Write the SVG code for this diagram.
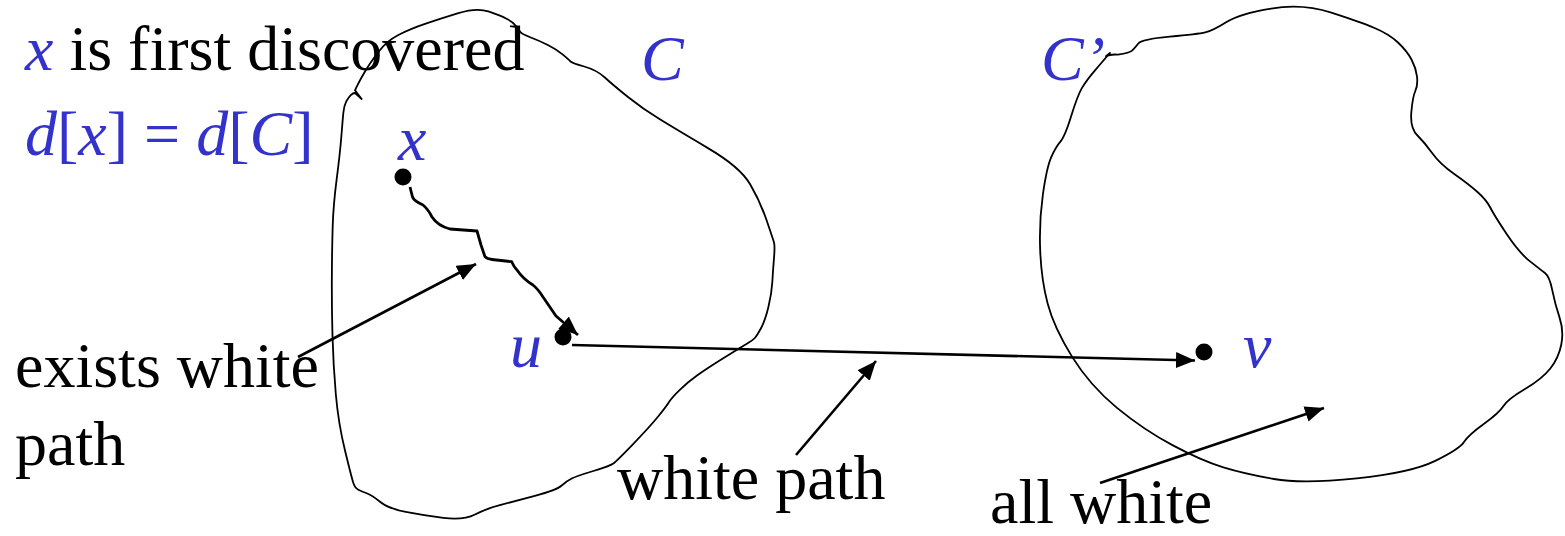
<svg xmlns="http://www.w3.org/2000/svg" width="1565" height="536" viewBox="0 0 1565 536">
<style>
text{font-family:"Liberation Serif","Times New Roman",serif;font-size:64px;fill:#000}
.b{fill:#3333cc;font-style:italic}
.bu{fill:#3333cc}
.blob{fill:none;stroke:#000;stroke-width:1.8;stroke-linejoin:round;stroke-linecap:round}
.conn{fill:none;stroke:#000;stroke-width:2.6}
.sq{fill:none;stroke:#000;stroke-width:2.8;stroke-linejoin:round}
.dot{fill:#000}
</style>
<defs>
<marker id="ah" markerUnits="userSpaceOnUse" markerWidth="22" markerHeight="18" refX="19" refY="8" orient="auto">
<path d="M0,0 L19,8 L0,16 z" fill="#000"/>
</marker>
</defs>
<g id="blobC">
<path class="blob" d="M488.35,11.45 Q500,15.4 506.5,18.7 Q513,22 516,26 Q519,30 520.35,32 Q521.7,34 530.85,37.5 Q540,41 548.35,45.25 Q556.7,49.5 562.85,54.6 Q569,59.7 570.35,61.35 Q571.7,63 584.2,66.5 Q596.7,70 604.85,77.5 Q613,85 628,97 Q643,109 659.85,119.35 Q676.7,129.7 708.35,148.35 Q740,167 750,184 Q760,201 766.5,220 Q773,239 774,242.5 Q775,246 774,258 Q773,270 772.35,281.75 Q771.7,293.5 768.35,307.25 Q765,321 760.85,328.5 Q756.7,336 754.85,338 Q753,340 748,343 Q743,346 724.85,357.3 Q706.7,368.6 697.35,375.3 Q688,382 679.85,389.8 Q671.7,397.6 669.2,401.8 Q666.7,406 658.35,416.3 Q650,426.6 633.35,443.8 Q616.7,461 613.35,463.5 Q610,466 593.35,471 Q576.7,476 571.7,478.5 Q566.7,481 561.7,485.5 Q556.7,490 534.85,495.85 Q513,501.7 499.85,505.1 Q486.7,508.5 475,514.5 Q463.3,520.5 443.3,517.95 Q423.3,515.4 405.8,511.95 Q388.3,508.5 380,501.75 Q371.7,495 366.7,493.25 Q361.7,491.5 358.35,489.75 Q355,488 353.35,483 Q351.7,478 345,450.5 Q338.3,423 335.8,394 Q333.3,365 332.5,336 Q331.7,307 331.85,278.5 Q332,250 332.65,227.5 Q333.3,205 336.65,179.3 Q340,153.6 341.35,136.55 Q342.7,119.5 343.35,112.75 Q344,106 346.15,101.65 Q348.3,97.3 350.8,95.05 Q353.3,92.8 355,93 L361.7,99 L355,90.4 Q356,88 357.5,85.2 Q360,80 365,71.5 Q370,63 378.35,52 Q386.7,41 398.35,35 Q410,29 425,23.9 Q440,18.8 458.35,13.15 Q476.7,7.5 488.35,11.45 Z"/>
</g>
<g id="blobC2">
<path class="blob" d="M1331.35,12.7 Q1360,22 1374.5,28 Q1389,34 1398,42.5 Q1407,51 1411.5,59.5 Q1416,68 1417,76.5 Q1418,85 1415.3,91 Q1412.6,97 1411.3,112.5 Q1410,128 1417.5,135.5 Q1425,143 1432.5,153.5 Q1440,164 1454.25,174 Q1468.5,184 1477.5,192 Q1486.5,200 1490.25,207.5 Q1494,215 1506.5,233.8 Q1519,252.6 1529.75,261.1 Q1540.5,269.6 1545,273.05 Q1549.5,276.5 1552.25,290.15 Q1555,303.8 1559.5,317.4 Q1564,331 1561.3,344.5 Q1558.6,358 1550.3,368.5 Q1542,379 1525,389 Q1508,399 1503.5,406 Q1499,413 1483.75,424 Q1468.5,435 1464,442 Q1459.5,449 1435.25,460.85 Q1411,472.7 1356.85,478.35 Q1302.7,484 1273.85,479 Q1245,474 1223.4,467.4 Q1201.8,460.8 1172.9,445.4 Q1144,430 1117,407.85 Q1090,385.7 1072,356.65 Q1054,327.6 1047.7,303.8 Q1041.4,280 1040.2,250.9 Q1039,221.8 1042.9,194.4 Q1046.8,167 1051.35,156.9 Q1055.9,146.8 1060.4,141.65 Q1064.9,136.5 1071.2,116.05 Q1077.5,95.6 1082,87.9 Q1086.5,80.2 1094.6,70.8 Q1102.7,61.4 1106,57.5 L1110,52.9 L1106,56.3 Q1110,54 1117.85,54.6 Q1129.7,52.9 1132.35,50.35 Q1135,47.8 1138.3,43.5 Q1141.6,39.2 1169.8,36.6 Q1198,34 1205.3,32.35 Q1212.6,30.7 1226.1,22.2 Q1239.6,13.7 1271.15,8.55 Q1302.7,3.4 1331.35,12.7 Z"/>
</g>
<g id="connectors">
<path class="sq" d="M410,187 L412.5,197 Q414,201 423,205 Q428,209 432,217 Q438,226 450,229 L477,231 L481,245 L485,256.7 Q487,259 492,259.5 L511.7,261.7 Q514,267 517,270 Q523,279 533,285 Q538,289 543,297 L556,316 L578,335" marker-end="url(#ah)"/>
<line class="conn" x1="572" y1="345" x2="1195" y2="360.5" marker-end="url(#ah)"/>
<line class="conn" x1="298" y1="357" x2="476" y2="264" marker-end="url(#ah)"/>
<line class="conn" x1="796" y1="455" x2="876" y2="361" marker-end="url(#ah)"/>
<line class="conn" x1="1100" y1="483" x2="1324" y2="408" marker-end="url(#ah)"/>
</g>
<g id="nodeX"><circle class="dot" cx="403" cy="177" r="8.5"/><text class="b" x="398" y="160">x</text></g>
<g id="nodeU"><circle class="dot" cx="563" cy="337" r="8.5"/><text class="b" x="510" y="367">u</text></g>
<g id="nodeV"><circle class="dot" cx="1204" cy="352" r="8.5"/><text class="b" x="1243" y="367">v</text></g>
<g id="labelC"><text class="b" x="641" y="80">C</text></g>
<g id="labelC2"><text class="b" x="1041" y="80">C’</text></g>
<g id="note">
<text x="25" y="70"><tspan class="b">x</tspan> is first discovered</text>
<text x="25" y="155"><tspan class="b">d</tspan><tspan class="bu">[</tspan><tspan class="b">x</tspan><tspan class="bu">] = </tspan><tspan class="b">d</tspan><tspan class="bu">[</tspan><tspan class="b">C</tspan><tspan class="bu">]</tspan></text>
</g>
<g id="labelExists"><text x="15" y="387">exists white</text><text x="15" y="465">path</text></g>
<g id="labelWhitePath"><text x="617" y="499">white path</text></g>
<g id="labelAllWhite"><text x="990" y="523">all white</text></g>
</svg>
